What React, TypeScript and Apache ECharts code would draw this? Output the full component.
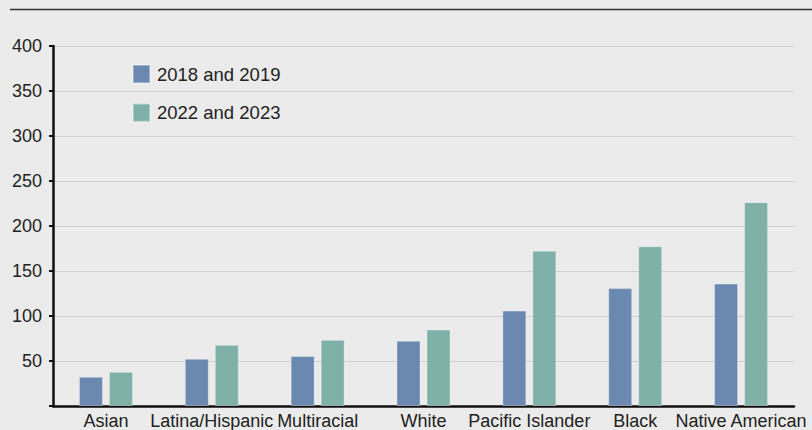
import React, { useEffect, useRef } from "react";
import * as echarts from "echarts";

const categories = ["Asian", "Latina/Hispanic", "Multiracial", "White", "Pacific Islander", "Black", "Native American"];
const series2018 = [32.5, 52.5, 55.5, 72.5, 106, 131, 136];
const series2022 = [38, 68, 73.5, 85, 172.5, 177.5, 226.5];
const seriesNames = ["2018 and 2019", "2022 and 2023"];
const yTicks = { min: 0, max: 400, interval: 50 };

const FONT = "'Liberation Sans', Arial, Helvetica, sans-serif";

export default function App() {
  const ref = useRef<HTMLDivElement>(null);
  useEffect(() => {
    if (!ref.current) return;
    const chart = echarts.init(ref.current, null, { renderer: "svg" });
    chart.setOption({
      animation: false,
      backgroundColor: "#ebebeb",
      textStyle: { fontFamily: FONT },
      grid: { left: 53, right: 18, top: 46, bottom: 24, containLabel: false },
      legend: {
        orient: "vertical",
        left: 132,
        top: 64,
        padding: 0,
        itemWidth: 17,
        itemHeight: 18,
        itemGap: 18.7,
        icon: "rect",
        textStyle: { fontSize: 18.5, color: "#222", fontFamily: FONT, padding: [0, 0, 0, 2] },
        data: seriesNames,
      },
      xAxis: {
        type: "category",
        data: categories,
        axisLine: { show: true, lineStyle: { color: "#111", width: 2.5 } },
        axisTick: { show: false },
        axisLabel: { color: "#222", fontSize: 18, margin: 6, interval: 0, fontFamily: FONT },
      },
      yAxis: {
        type: "value",
        min: yTicks.min,
        max: yTicks.max,
        interval: yTicks.interval,
        axisLine: { show: true, lineStyle: { color: "#111", width: 2.5 } },
        axisTick: { show: true, length: 4, lineStyle: { color: "#111", width: 2 } },
        axisLabel: {
          color: "#222",
          fontSize: 18,
          margin: 11,
          fontFamily: FONT,
          formatter: (v: number) => (v === 0 ? "" : String(v)),
        },
        splitLine: { show: true, lineStyle: { color: "#cfcfcf", width: 1 } },
      },
      series: [
        {
          name: seriesNames[0],
          type: "bar",
          data: series2018,
          barWidth: 24,
          barGap: "25%",
          itemStyle: { color: "#6a88b0", borderColor: "rgba(255,255,255,0.35)", borderWidth: 1 },
        },
        {
          name: seriesNames[1],
          type: "bar",
          data: series2022,
          barWidth: 24,
          barGap: "25%",
          itemStyle: { color: "#7fb1a8", borderColor: "rgba(255,255,255,0.35)", borderWidth: 1 },
        },
      ],
      graphic: [
        {
          type: "line",
          shape: { x1: 10, y1: 9.5, x2: 812, y2: 9.5 },
          style: { stroke: "#333", lineWidth: 1.5 },
        },
      ],
    });
    return () => chart.dispose();
  }, []);
  return (
    <div
      ref={ref}
      style={{ position: "absolute", left: 0, top: 0, width: 812, height: 430 }}
    />
  );
}
